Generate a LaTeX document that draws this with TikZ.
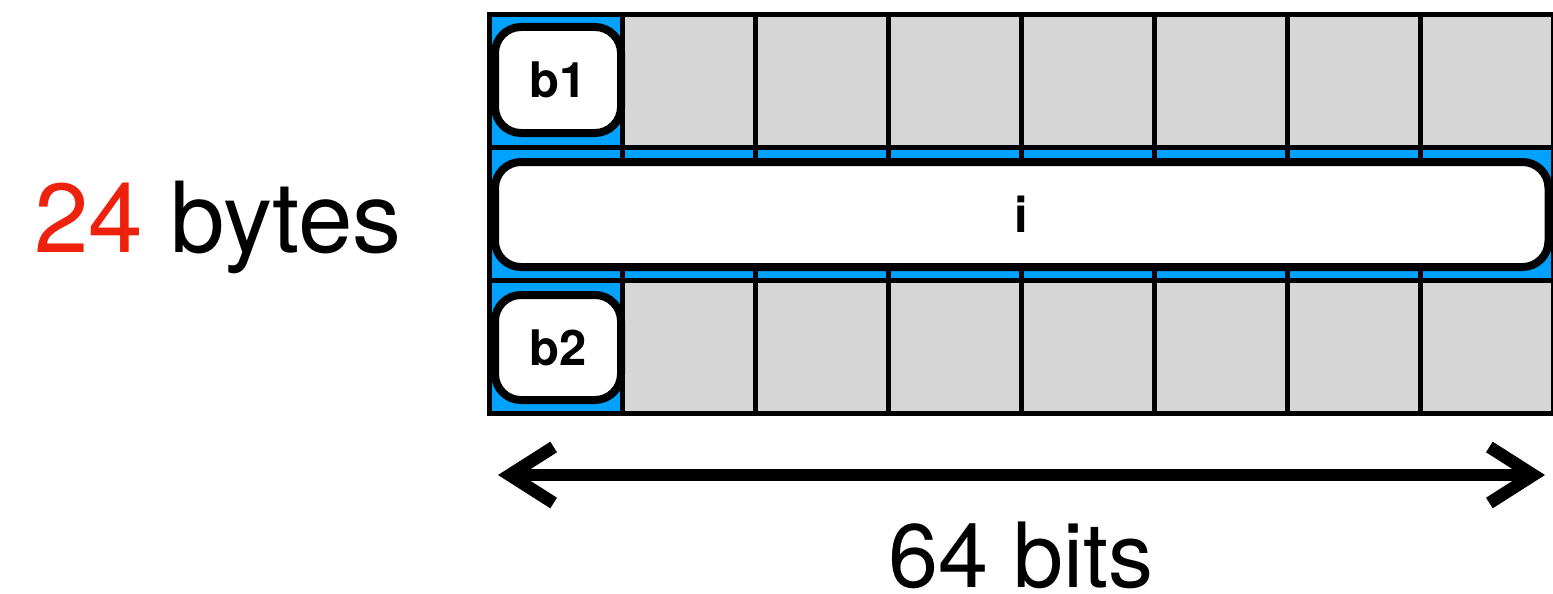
\documentclass[tikz,border=0pt]{standalone}
\usepackage{fontspec}
\setmainfont{TeX Gyre Heros}
\usetikzlibrary{arrows.meta}
\definecolor{cellblue}{HTML}{00A2FF}
\definecolor{cellgrey}{HTML}{D6D6D6}
\definecolor{numred}{HTML}{EE220C}
\begin{document}
\begin{tikzpicture}[x=1pt,y=-1pt,
  gridline/.style={line width=5.5pt, black, line cap=rect},
  field/.style={draw, line width=8pt, fill=white, rounded corners=26pt, inner sep=0pt, font=\fontsize{49}{49}\selectfont\bfseries},
  barbtip/.tip={Straight Barb[length=44pt,width=56pt]},
  dimarrow/.style={line width=12.5pt, barbtip-barbtip},
  biglabel/.style={font=\fontsize{98}{100}\selectfont, inner sep=0pt}
]
\useasboundingbox (0,0) rectangle (1553,594);
% cells
\fill[cellgrey] (489.5,14.5) rectangle (1553.5,413.5);
\fill[cellblue] (489.5,147.5) rectangle (1553.5,280.5);
\fill[cellblue] (489.5,14.5) rectangle (622.5,413.5);
\foreach \c in {0,...,8} \draw[gridline] (489.5+133*\c,14.5) -- (489.5+133*\c,413.5);
\foreach \r in {0,...,3} \draw[gridline] (489.5,14.5+133*\r) -- (1553.5,14.5+133*\r);
% fields
\node[field, minimum width=126pt, minimum height=106pt] (b1) at (558,80) {b1};
\node[field, minimum width=1053.5pt, minimum height=105pt] (i) at (1021.75,214.5) {i};
\node[field, minimum width=126pt, minimum height=105pt] (b2) at (558,347.5) {b2};
% labels
\node[biglabel, anchor=base west] (bytes) at (34,252) {\textcolor{numred}{24} bytes};
\node[biglabel, font=\fontsize{90}{92}\selectfont, anchor=base] (bits) at (1021,587) {64 bits};
% dimension arrow
\coordinate (aL) at (498,475);
\coordinate (aR) at (1545,475);
\draw[dimarrow] (aL) -- (aR);
\end{tikzpicture}
\end{document}
